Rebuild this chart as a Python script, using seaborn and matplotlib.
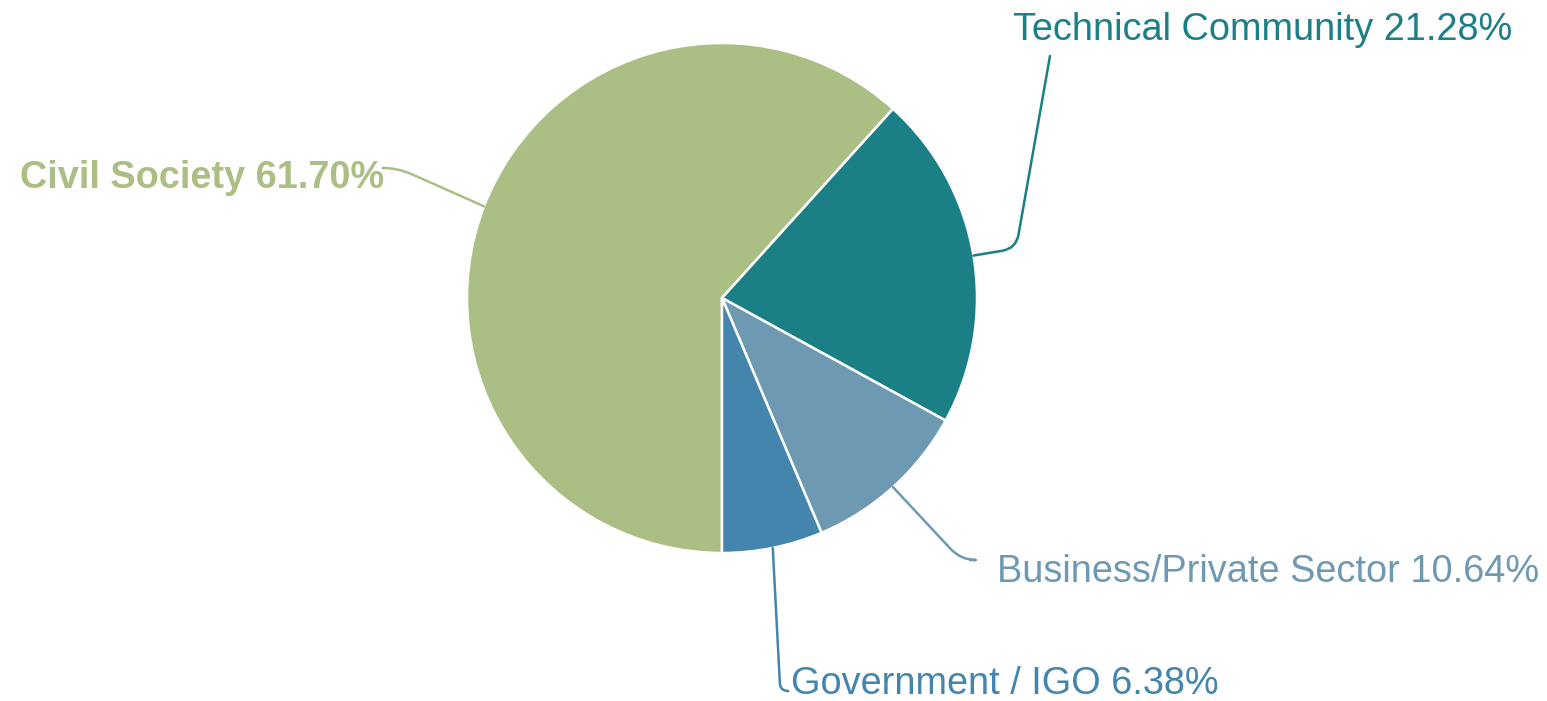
import matplotlib
matplotlib.use('Agg')
import matplotlib.pyplot as plt
import seaborn as sns
import numpy as np

# chart data
categories = ['Civil Society', 'Technical Community', 'Business/Private Sector', 'Government / IGO']
shares = [61.70, 21.28, 10.64, 6.38]
colors = ['#abbf85', '#1b7f86', '#6d9ab2', '#4385ad']

sns.set_theme(style='white')
plt.rcParams['font.family'] = ['Liberation Sans', 'DejaVu Sans']

W, H = 1547, 701
fig = plt.figure(figsize=(W / 100, H / 100), dpi=100)
ax = fig.add_axes([0, 0, 1, 1])

# pie centre / radius in pixel units (y measured upwards)
cx, cy, r = 722, H - 298, 255
wedges, _ = ax.pie(shares, colors=colors, startangle=270, counterclock=False,
                   center=(cx, cy), radius=r, frame=True,
                   wedgeprops=dict(edgecolor='white', linewidth=1.8))
ax.set_xlim(0, W)
ax.set_ylim(0, H)
ax.axis('off')

# label layout: text x, text baseline (from top), ha, bold, connector start (from top), angleA, angleB, rad
layout = [
    (384, 188, 'right', True, (384, 168), 0, -24, 15),
    (1013, 40, 'left', False, (1050, 56), 80, 9.5, 14),
    (997, 582, 'left', False, (970, 560), 0, -47, 15),
    (791, 694, 'left', False, (788, 691), 0, 93, 8),
]

for w, name, val, col, lay in zip(wedges, categories, shares, colors, layout):
    tx, ty, ha, bold, (sx, sy), angA, angB, rad = lay
    ax.text(tx, H - ty, f'{name} {val:.2f}%', color=col, fontsize=27.3,
            ha=ha, va='baseline', fontweight='bold' if bold else 'normal')
    theta = np.deg2rad((w.theta1 + w.theta2) / 2)
    edge = (cx + r * np.cos(theta), cy + r * np.sin(theta))
    ax.annotate('', xy=edge, xytext=(sx, H - sy),
                arrowprops=dict(arrowstyle='-', color=col, lw=1.8,
                                shrinkA=0, shrinkB=0,
                                connectionstyle=f'angle,angleA={angA},angleB={angB},rad={rad}'))

fig.savefig('out.png', dpi=100, facecolor='white')
